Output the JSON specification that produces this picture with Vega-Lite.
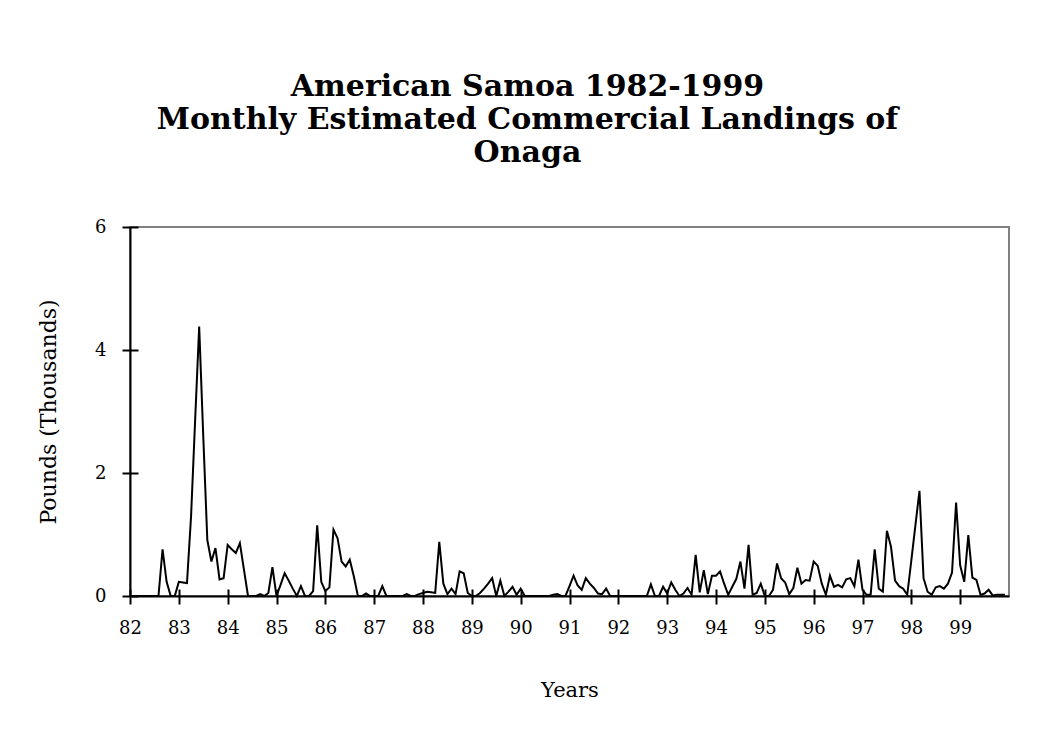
{
  "$schema": "https://vega.github.io/schema/vega-lite/v6.json",
  "width": 879,
  "height": 369,
  "autosize": {"type": "none"},
  "padding": {"left": 130, "top": 227, "right": 28, "bottom": 148},
  "background": "white",
  "title": {
    "text": ["American Samoa 1982-1999", "Monthly Estimated Commercial Landings of", "Onaga"],
    "font": "DejaVu Serif",
    "fontSize": 30,
    "fontWeight": "bold",
    "color": "black",
    "lineHeight": 33,
    "anchor": "middle",
    "dx": -42,
    "offset": 50
  },
  "config": {
    "view": {"stroke": "#808080", "strokeWidth": 2},
    "axis": {"grid": false}
  },
  "data": {
    "values": [
      {"m":0,"v":0},{"m":1,"v":0},{"m":2,"v":0},{"m":3,"v":0},{"m":4,"v":0},{"m":5,"v":0},{"m":6,"v":0},{"m":7,"v":0},
      {"m":8,"v":0.76},{"m":9,"v":0.23},{"m":10,"v":0},{"m":11,"v":0},{"m":12,"v":0.23},{"m":13,"v":0.22},{"m":14,"v":0.21},{"m":15,"v":1.29},
      {"m":16,"v":2.85},{"m":17,"v":4.38},{"m":18,"v":2.6},{"m":19,"v":0.91},{"m":20,"v":0.56},{"m":21,"v":0.78},{"m":22,"v":0.27},{"m":23,"v":0.29},
      {"m":24,"v":0.83},{"m":25,"v":0.76},{"m":26,"v":0.7},{"m":27,"v":0.86},{"m":28,"v":0.43},{"m":29,"v":0},{"m":30,"v":0},{"m":31,"v":0},
      {"m":32,"v":0.03},{"m":33,"v":0},{"m":34,"v":0.05},{"m":35,"v":0.47},{"m":36,"v":0},{"m":37,"v":0.18},{"m":38,"v":0.37},{"m":39,"v":0.25},
      {"m":40,"v":0.12},{"m":41,"v":0},{"m":42,"v":0.16},{"m":43,"v":0},{"m":44,"v":0},{"m":45,"v":0.08},{"m":46,"v":1.15},{"m":47,"v":0.23},
      {"m":48,"v":0.08},{"m":49,"v":0.14},{"m":50,"v":1.08},{"m":51,"v":0.94},{"m":52,"v":0.56},{"m":53,"v":0.48},{"m":54,"v":0.59},{"m":55,"v":0.32},
      {"m":56,"v":0},{"m":57,"v":0},{"m":58,"v":0.04},{"m":59,"v":0},{"m":60,"v":0},{"m":61,"v":0},{"m":62,"v":0.16},{"m":63,"v":0},
      {"m":64,"v":0},{"m":65,"v":0},{"m":66,"v":0},{"m":67,"v":0},{"m":68,"v":0.03},{"m":69,"v":0},{"m":70,"v":0},{"m":71,"v":0.03},
      {"m":72,"v":0.05},{"m":73,"v":0.07},{"m":74,"v":0.06},{"m":75,"v":0.05},{"m":76,"v":0.88},{"m":77,"v":0.2},{"m":78,"v":0.03},{"m":79,"v":0.12},
      {"m":80,"v":0.03},{"m":81,"v":0.4},{"m":82,"v":0.37},{"m":83,"v":0.05},{"m":84,"v":0},{"m":85,"v":0},{"m":86,"v":0.05},{"m":87,"v":0.12},
      {"m":88,"v":0.2},{"m":89,"v":0.29},{"m":90,"v":0},{"m":91,"v":0.25},{"m":92,"v":0},{"m":93,"v":0.07},{"m":94,"v":0.15},{"m":95,"v":0.02},
      {"m":96,"v":0.12},{"m":97,"v":0},{"m":98,"v":0},{"m":99,"v":0},{"m":100,"v":0},{"m":101,"v":0},{"m":102,"v":0},{"m":103,"v":0},
      {"m":104,"v":0.02},{"m":105,"v":0.03},{"m":106,"v":0},{"m":107,"v":0},{"m":108,"v":0.16},{"m":109,"v":0.33},{"m":110,"v":0.17},{"m":111,"v":0.1},
      {"m":112,"v":0.29},{"m":113,"v":0.2},{"m":114,"v":0.13},{"m":115,"v":0.04},{"m":116,"v":0.03},{"m":117,"v":0.12},{"m":118,"v":0},{"m":119,"v":0},
      {"m":120,"v":0},{"m":121,"v":0},{"m":122,"v":0},{"m":123,"v":0},{"m":124,"v":0},{"m":125,"v":0},{"m":126,"v":0},{"m":127,"v":0},
      {"m":128,"v":0.19},{"m":129,"v":0},{"m":130,"v":0},{"m":131,"v":0.15},{"m":132,"v":0.04},{"m":133,"v":0.22},{"m":134,"v":0.1},{"m":135,"v":0},
      {"m":136,"v":0.04},{"m":137,"v":0.13},{"m":138,"v":0.02},{"m":139,"v":0.67},{"m":140,"v":0.06},{"m":141,"v":0.42},{"m":142,"v":0.03},{"m":143,"v":0.33},
      {"m":144,"v":0.33},{"m":145,"v":0.4},{"m":146,"v":0.2},{"m":147,"v":0.02},{"m":148,"v":0.15},{"m":149,"v":0.28},{"m":150,"v":0.56},{"m":151,"v":0.12},
      {"m":152,"v":0.83},{"m":153,"v":0.02},{"m":154,"v":0.05},{"m":155,"v":0.2},{"m":156,"v":0},{"m":157,"v":0},{"m":158,"v":0.1},{"m":159,"v":0.53},
      {"m":160,"v":0.29},{"m":161,"v":0.22},{"m":162,"v":0.03},{"m":163,"v":0.13},{"m":164,"v":0.46},{"m":165,"v":0.2},{"m":166,"v":0.26},{"m":167,"v":0.25},
      {"m":168,"v":0.56},{"m":169,"v":0.49},{"m":170,"v":0.2},{"m":171,"v":0.02},{"m":172,"v":0.33},{"m":173,"v":0.15},{"m":174,"v":0.18},{"m":175,"v":0.14},
      {"m":176,"v":0.27},{"m":177,"v":0.29},{"m":178,"v":0.16},{"m":179,"v":0.59},{"m":180,"v":0.1},{"m":181,"v":0.02},{"m":182,"v":0.02},{"m":183,"v":0.76},
      {"m":184,"v":0.12},{"m":185,"v":0.07},{"m":186,"v":1.06},{"m":187,"v":0.8},{"m":188,"v":0.25},{"m":189,"v":0.16},{"m":190,"v":0.12},{"m":191,"v":0.02},
      {"m":192,"v":0.58},{"m":193,"v":1.15},{"m":194,"v":1.71},{"m":195,"v":0.29},{"m":196,"v":0.07},{"m":197,"v":0.02},{"m":198,"v":0.14},{"m":199,"v":0.16},
      {"m":200,"v":0.12},{"m":201,"v":0.2},{"m":202,"v":0.38},{"m":203,"v":1.52},{"m":204,"v":0.5},{"m":205,"v":0.23},{"m":206,"v":0.99},{"m":207,"v":0.3},
      {"m":208,"v":0.26},{"m":209,"v":0.02},{"m":210,"v":0.04},{"m":211,"v":0.1},{"m":212,"v":0.01},{"m":213,"v":0.02},{"m":214,"v":0.02},{"m":215,"v":0.02}
    ]
  },
  "layer": [
    {
      "mark": {"type": "line", "color": "black", "strokeWidth": 2},
      "encoding": {
        "x": {
          "field": "m", "type": "quantitative",
          "scale": {"domain": [0, 216], "nice": false, "zero": false},
          "axis": {
            "values": [0,12,24,36,48,60,72,84,96,108,120,132,144,156,168,180,192,204],
            "labelExpr": "format(82 + datum.value / 12, 'd')",
            "title": "Years",
            "titleFont": "DejaVu Serif", "titleFontSize": 21, "titleFontWeight": "normal", "titleColor": "black", "titlePadding": 42,
            "labelFont": "DejaVu Serif", "labelFontSize": 18, "labelColor": "black", "labelPadding": 15,
            "labelFlush": false, "labelOverlap": false,
            "domainColor": "black", "domainWidth": 2,
            "tickColor": "black", "tickWidth": 2, "tickSize": 8
          }
        },
        "y": {
          "field": "v", "type": "quantitative",
          "scale": {"domain": [0, 6], "nice": false},
          "axis": {
            "values": [0, 2, 4, 6],
            "title": "Pounds (Thousands)",
            "titleFont": "DejaVu Serif", "titleFontSize": 22, "titleFontWeight": "normal", "titleColor": "black", "titlePadding": 34,
            "labelFont": "DejaVu Serif", "labelFontSize": 18, "labelColor": "black", "labelPadding": 16,
            "labelFlush": false,
            "domainColor": "black", "domainWidth": 2,
            "tickColor": "black", "tickWidth": 2, "tickSize": 8
          }
        }
      }
    },
    {
      "mark": {"type": "line", "opacity": 0},
      "encoding": {
        "x": {
          "field": "m", "type": "quantitative",
          "axis": {
            "orient": "bottom",
            "values": [0,12,24,36,48,60,72,84,96,108,120,132,144,156,168,180,192,204],
            "labels": false, "domain": false, "title": null,
            "tickColor": "black", "tickWidth": 2, "tickSize": -7
          }
        },
        "y": {
          "field": "v", "type": "quantitative",
          "axis": {
            "orient": "left",
            "values": [0, 2, 4, 6],
            "labels": false, "domain": false, "title": null,
            "tickColor": "black", "tickWidth": 2, "tickSize": -8
          }
        }
      }
    }
  ],
  "resolve": {"axis": {"x": "independent", "y": "independent"}}
}
